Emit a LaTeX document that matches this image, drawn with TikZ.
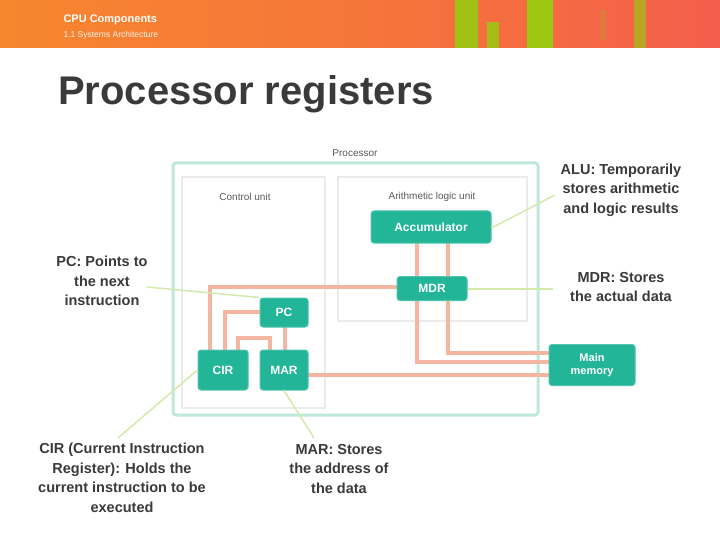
\documentclass[tikz,border=0pt]{standalone}
\usepackage{fontspec}
\setmainfont{Liberation Sans}
\usetikzlibrary{calc}
\definecolor{regteal}{HTML}{22B597}
\definecolor{procmint}{HTML}{BDE8DA}
\definecolor{wire}{HTML}{F4B6A2}
\definecolor{callg}{HTML}{D3EAAE}
\definecolor{txtdark}{HTML}{3A3A3A}
\definecolor{hdrL}{HTML}{F7862E}
\definecolor{hdrR}{HTML}{F45E4C}
\definecolor{stripe}{HTML}{92D40A}
\tikzset{
  reg/.style={draw=regteal!80!white, line width=1pt, fill=regteal, rounded corners=3pt, text=white, font=\fontsize{12}{14}\selectfont\bfseries, inner sep=0pt},
  wireline/.style={draw=wire, line width=3.5pt},
  callout/.style={draw=callg, line width=1.5pt},
  calltext/.style={align=center, text=txtdark, font=\fontsize{14.5}{19.5}\selectfont\bfseries},
  unitbox/.style={draw=black!8, line width=1.5pt},
  unitlabel/.style={text=black!65, font=\fontsize{10}{12}\selectfont}
}
\begin{document}
\begin{tikzpicture}[x=1pt,y=-1pt]
\useasboundingbox (0,0) rectangle (720,540);
\fill[white] (0,0) rectangle (720,540);
% header band
\shade[left color=hdrL, right color=hdrR, middle color=hdrL!60!hdrR] (0,0) rectangle (720,48);
\fill[stripe!85!hdrR] (455,0) rectangle (478,48);
\fill[stripe!80!hdrR] (487,22) rectangle (499,48);
\fill[stripe!90!hdrR] (527,0) rectangle (553,48);
\fill[stripe!60!hdrR] (634,0) rectangle (646,48);
\fill[stripe!25!hdrR] (600,10) rectangle (606,40);
\node[anchor=west, text=white, font=\fontsize{11}{12}\selectfont\bfseries] (hdr1) at (60,20) {CPU Components};
\node[anchor=west, text=white!90!hdrL, font=\fontsize{8.5}{10}\selectfont] (hdr2) at (60,35) {1.1 Systems Architecture};
% title
\node[anchor=base west, text=txtdark, font=\fontsize{40}{44}\selectfont\bfseries, inner sep=0pt] (title) at (58,105) {Processor registers};
% processor box
\draw[draw=procmint, line width=3pt, rounded corners=3pt] (173,163) rectangle (538,415);
\node[fill=white, unitlabel, inner sep=2pt] (proclabel) at (355,153) {Processor};
\draw[unitbox] (182,177) rectangle (325,408);
\draw[unitbox] (338,177) rectangle (527,321);
\node[unitlabel] (culabel) at (245,197) {Control unit};
\node[unitlabel] (alulabel) at (432,197) {Arithmetic logic unit};
% registers (positions)
\coordinate (accC) at (431,227);
\coordinate (mdrC) at (432,288.5);
\coordinate (pcC) at (284,312.5);
\coordinate (cirC) at (223,370);
\coordinate (marC) at (284,370);
\coordinate (memC) at (592,365);
% wires (under boxes)
\draw[wireline] (417,240) -- (417,280);
\draw[wireline] (448,240) -- (448,280);
\draw[wireline] (448,298) -- (448,353) -- (552,353);
\draw[wireline] (417,298) -- (417,362) -- (552,362);
\draw[wireline] (305,375) -- (552,375);
\draw[wireline] (400,287) -- (210,287) -- (210,352);
\draw[wireline] (262,312) -- (225,312) -- (225,352);
\draw[wireline] (238,352) -- (238,338) -- (270,338) -- (270,352);
\draw[wireline] (285,326) -- (285,352);
% register nodes
\node[reg, minimum width=120pt, minimum height=32pt] (acc) at (accC) {Accumulator};
\node[reg, minimum width=70pt, minimum height=24pt] (mdr) at (mdrC) {MDR};
\node[reg, minimum width=48pt, minimum height=29pt] (pc) at (pcC) {PC};
\node[reg, minimum width=50pt, minimum height=40pt] (cir) at (cirC) {CIR};
\node[reg, minimum width=48pt, minimum height=40pt] (mar) at (marC) {MAR};
\node[reg, minimum width=86pt, minimum height=41pt, align=center, font=\fontsize{11}{12.5}\selectfont\bfseries] (mem) at (memC) {Main\\memory};
% callout texts
\node[calltext] (alut) at (621,190) {ALU: Temporarily\\stores arithmetic\\and logic results};
\node[calltext] (mdrt) at (621,287) {MDR: Stores\\the actual data};
\node[calltext] (pct) at (102,281) {PC: Points to\\the next\\instruction};
\node[calltext] (cirt) at (122,478) {CIR (Current Instruction\\Register): Holds the\\current instruction to be\\executed};
\node[calltext] (mart) at (339,469) {MAR: Stores\\the address of\\the data};
% callout lines
\coordinate (aluend) at (555,195);
\coordinate (mdrend) at (553,289);
\coordinate (pcend) at (147,287);
\coordinate (cirend) at (118,438);
\coordinate (marend) at (314,438);
\draw[callout] (aluend) -- (acc.east |- 0,228);
\draw[callout] (mdrend) -- (mdr.east |- 0,289);
\draw[callout] (pcend) -- (pc.north west);
\draw[callout] (cirend) -- (cir.west |- 0,370);
\draw[callout] (marend) -- (mar.south);
\end{tikzpicture}
\end{document}
